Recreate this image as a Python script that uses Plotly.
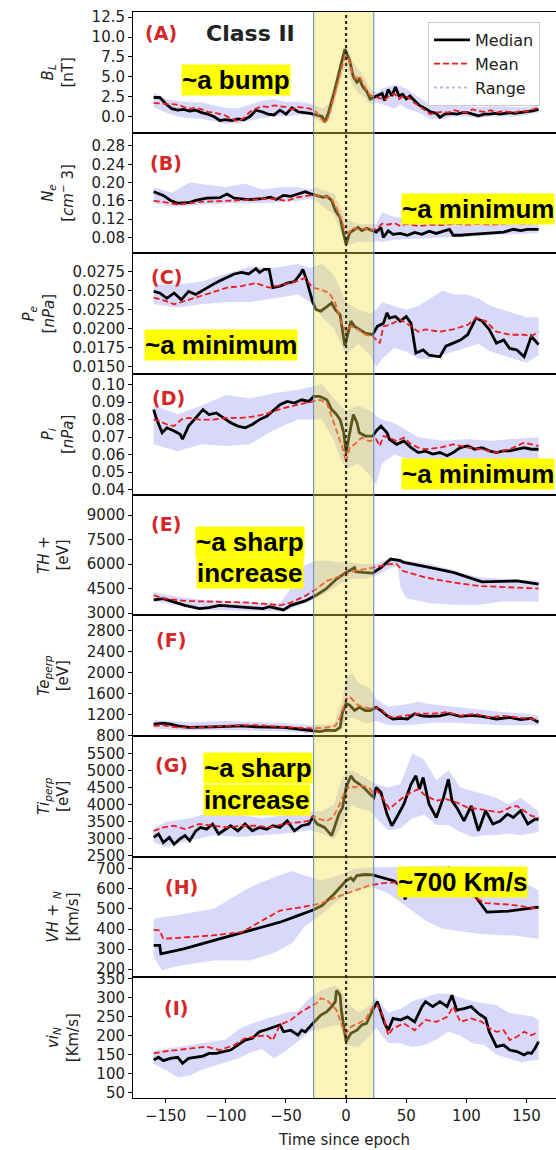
import plotly.graph_objects as go

# ---------------- data ----------------
# Panel A : B_L [nT]
A_med_t = [-160,-155,-150,-145,-140,-135,-130,-125,-120,-115,
           -110,-105,-100,-95,-90,-85,-80,-75,-70,-65,
           -60,-55,-50,-45,-40,-35,-30,-25,-20,-18,
           -15,-10,-5,-1,3,6,9,11,14,17,
           20,23,27,30,32,35,38,41,44,47,
           50,53,57,61,66,70,75,78,82,87,
           92,97,101,106,110,115,119,124,128,132,
           136,140,145,150,155,160]
A_med = [2.4,2.4,1.6,1.0,0.8,0.9,0.7,0.8,0.5,0.3,
         0.0,-0.5,-0.4,-0.5,-0.3,-0.4,0.0,0.8,0.6,0.3,
         0.2,0.8,0.3,1.1,0.6,0.5,0.4,0.2,0.0,-0.7,
         0.3,3.0,6.0,8.5,7.0,5.0,4.3,4.7,3.7,3.2,
         2.2,2.4,2.6,2.9,2.0,3.4,2.6,3.7,2.6,2.8,
         2.2,2.6,2.0,1.4,1.0,0.6,0.4,-0.1,0.3,0.4,
         0.3,0.5,0.5,0.3,0.1,0.3,0.3,0.4,0.3,0.4,
         0.5,0.4,0.5,0.6,0.7,0.9]
A_mean_t = [-160,-150,-145,-140,-135,-130,-125,-120,-115,-110,
            -105,-100,-95,-90,-85,-80,-75,-70,-65,-60,
            -55,-50,-45,-40,-35,-30,-25,-20,-17,-14,
            -10,-5,-1,2,5,8,11,14,17,20,
            24,28,32,36,40,44,48,52,56,60,
            65,70,75,80,85,90,95,100,105,110,
            115,120,125,130,135,140,145,150,155,160]
A_mean = [1.7,1.6,1.5,1.5,1.2,1.0,1.1,0.9,0.6,0.5,
          0.3,0.1,-0.3,-0.6,-0.2,0.6,1.0,1.3,1.2,1.4,
          1.3,1.2,0.9,1.2,1.1,1.0,0.6,-0.4,-0.8,0.2,
          2.5,5.3,7.6,7.3,5.5,4.8,5.1,4.2,3.3,2.7,
          2.5,2.3,2.1,2.6,2.9,2.2,2.6,2.4,1.8,1.4,
          0.8,0.3,0.5,0.6,0.5,0.8,0.6,0.5,0.9,0.7,
          0.6,0.8,0.5,0.7,0.6,0.5,0.7,0.6,0.9,1.1]
A_rng_t = [-160,-150,-140,-130,-120,-110,-100,-90,-80,-70,
           -60,-50,-40,-30,-20,-15,-10,-5,0,5,
           10,15,20,25,30,35,40,45,50,55,
           60,70,80,90,100,110,120,130,140,150,160]
A_lo = [1.2,0.5,0.0,-0.2,-0.3,-0.6,-0.9,-0.9,-0.5,-0.2,
        0.0,0.0,0.2,0.2,-0.8,-0.5,1.5,4.5,6.5,4.0,
        3.0,2.5,1.5,1.8,1.5,1.3,1.0,1.5,1.0,0.8,
        0.5,-0.3,-0.3,0.0,0.0,-0.2,0.0,0.0,0.0,0.2,0.5]
A_hi = [3.0,2.2,2.0,1.8,1.8,1.4,1.1,1.0,1.5,2.0,
        2.2,1.8,1.9,1.6,1.0,1.5,4.0,7.0,9.0,7.0,
        6.0,5.0,3.5,3.0,3.5,3.8,4.0,3.8,3.5,3.0,
        2.5,1.5,1.5,1.5,1.3,1.2,1.3,1.3,1.2,1.2,1.4]

# Panel B : N_e
B_med_t = [-160,-152,-146,-140,-131,-125,-116,-105,-99,-93,
           -81,-69,-63,-58,-52,-46,-40,-34,-30,-25,
           -19,-16,-12,-9,-5,-2,0,3,7,10,
           13,17,22,25,29,31,35,39,45,51,
           57,63,69,75,81,86,89,95,104,113,
           122,131,139,145,151,160]
B_med = [0.180,0.172,0.161,0.155,0.156,0.161,0.166,0.167,0.175,0.166,
         0.163,0.165,0.168,0.163,0.172,0.170,0.175,0.180,0.176,0.172,
         0.168,0.170,0.161,0.139,0.124,0.087,0.065,0.091,0.098,0.102,
         0.095,0.100,0.095,0.092,0.102,0.080,0.095,0.087,0.089,0.085,
         0.091,0.087,0.094,0.089,0.094,0.098,0.085,0.085,0.087,0.089,
         0.091,0.092,0.098,0.095,0.098,0.098]
B_mean_t = [-160,-150,-140,-130,-120,-100,-80,-60,-50,-40,
            -30,-20,-12,-8,-4,-1,2,6,10,15,
            20,25,30,35,40,45,50,60,70,80,
            90,100,110,120,130,140,150,160]
B_mean = [0.160,0.157,0.152,0.155,0.158,0.160,0.162,0.165,0.160,0.168,
          0.172,0.172,0.165,0.145,0.120,0.095,0.090,0.100,0.098,0.100,
          0.097,0.098,0.110,0.108,0.112,0.105,0.110,0.105,0.108,0.107,
          0.110,0.108,0.110,0.108,0.110,0.112,0.110,0.115]
B_rng_t = [-160,-145,-130,-115,-100,-85,-70,-55,-40,-30,
           -25,-10,0,10,20,25,30,40,60,80,
           100,120,140,160]
B_lo = [0.155,0.148,0.150,0.152,0.155,0.155,0.155,0.157,0.160,0.165,
        0.160,0.130,0.062,0.070,0.070,0.072,0.070,0.075,0.078,0.080,
        0.082,0.085,0.088,0.090]
B_hi = [0.190,0.178,0.200,0.195,0.190,0.198,0.185,0.190,0.190,0.185,
        0.190,0.175,0.120,0.110,0.110,0.108,0.135,0.125,0.120,0.118,
        0.118,0.118,0.118,0.120]

# Panel C : P_e
C_med_t = [-160,-155,-149,-143,-137,-131,-125,-116,-111,-105,
           -99,-93,-87,-81,-75,-72,-68,-64,-61,-55,
           -49,-43,-38,-36,-33,-28,-25,-21,-16,-12,
           -9,-5,-1,1,4,7,11,16,22,26,
           31,34,36,41,45,50,54,58,64,69,
           78,83,89,95,101,108,113,119,125,131,
           136,142,148,154,160]
C_med = [0.0249,0.0247,0.0240,0.0247,0.0238,0.0249,0.0245,0.0254,0.0258,0.0263,
         0.0267,0.0272,0.0274,0.0272,0.0279,0.0274,0.0278,0.0278,0.0254,0.0256,
         0.0260,0.0262,0.0272,0.0278,0.0265,0.0236,0.0225,0.0223,0.0229,0.0234,
         0.0225,0.0218,0.0177,0.0190,0.0210,0.0203,0.0199,0.0194,0.0192,0.0203,
         0.0207,0.0221,0.0214,0.0216,0.0210,0.0216,0.0207,0.0168,0.0172,0.0165,
         0.0163,0.0177,0.0181,0.0185,0.0192,0.0214,0.0210,0.0199,0.0181,0.0185,
         0.0174,0.0172,0.0163,0.0190,0.0179]
C_mean_t = [-160,-149,-143,-131,-122,-111,-99,-87,-75,-64,
            -52,-40,-34,-28,-22,-14,-9,-5,0,4,
            10,16,22,28,31,36,45,54,60,66,
            78,89,101,108,116,125,136,148,154,160]
C_mean = [0.0241,0.0236,0.0232,0.0238,0.0243,0.0249,0.0254,0.0256,0.0260,0.0254,
          0.0258,0.0263,0.0267,0.0254,0.0252,0.0247,0.0234,0.0212,0.0196,0.0203,
          0.0199,0.0192,0.0190,0.0181,0.0203,0.0205,0.0212,0.0203,0.0196,0.0199,
          0.0196,0.0199,0.0205,0.0214,0.0210,0.0196,0.0192,0.0192,0.0190,0.0196]
C_rng_t = [-160,-140,-120,-100,-80,-60,-40,-30,-20,-10,
           0,10,20,25,30,40,50,60,70,80,
           90,100,110,120,130,140,150,160]
C_lo = [0.0232,0.0228,0.0232,0.0235,0.0235,0.0240,0.0245,0.0235,0.0215,0.0200,
        0.0165,0.0180,0.0165,0.0150,0.0160,0.0175,0.0170,0.0160,0.0160,0.0165,
        0.0170,0.0175,0.0180,0.0170,0.0165,0.0160,0.0155,0.0165]
C_hi = [0.0258,0.0258,0.0262,0.0272,0.0282,0.0280,0.0285,0.0280,0.0285,0.0270,
        0.0235,0.0225,0.0220,0.0225,0.0235,0.0230,0.0225,0.0230,0.0240,0.0250,
        0.0245,0.0245,0.0240,0.0230,0.0225,0.0220,0.0215,0.0215]

# Panel D : P_i
D_med_t = [-160,-158,-153,-149,-143,-138,-136,-131,-125,-119,
           -114,-108,-102,-96,-90,-84,-78,-72,-66,-61,
           -55,-49,-43,-37,-31,-27,-22,-16,-12,-8,
           -5,-2,0,3,6,9,11,16,22,25,
           29,34,36,42,48,54,60,66,72,78,
           84,89,95,101,107,113,119,125,131,136,
           142,148,154,160]
D_med = [0.0857,0.0810,0.0725,0.0753,0.0735,0.0716,0.0688,0.0763,0.0810,0.0857,
         0.0829,0.0838,0.0810,0.0782,0.0763,0.0753,0.0772,0.0800,0.0819,0.0847,
         0.0885,0.0904,0.0894,0.0913,0.0904,0.0932,0.0932,0.0913,0.0857,0.0829,
         0.0800,0.0725,0.0612,0.0725,0.0829,0.0782,0.0725,0.0706,0.0706,0.0735,
         0.0763,0.0725,0.0688,0.0659,0.0678,0.0640,0.0612,0.0620,0.0603,0.0612,
         0.0594,0.0612,0.0640,0.0650,0.0631,0.0640,0.0622,0.0612,0.0622,0.0622,
         0.0631,0.0640,0.0631,0.0631]
D_mean_t = [-160,-155,-149,-143,-137,-131,-122,-111,-99,-87,
            -75,-64,-52,-40,-28,-22,-16,-11,-6,-3,
            0,3,7,13,19,25,28,31,36,42,
            48,54,60,66,78,89,101,113,125,136,
            148,160]
D_mean = [0.0800,0.0791,0.0772,0.0763,0.0800,0.0810,0.0800,0.0800,0.0810,0.0810,
          0.0819,0.0838,0.0866,0.0885,0.0904,0.0913,0.0894,0.0800,0.0706,0.0640,
          0.0556,0.0640,0.0659,0.0697,0.0678,0.0688,0.0650,0.0706,0.0697,0.0678,
          0.0697,0.0659,0.0640,0.0631,0.0640,0.0659,0.0640,0.0631,0.0612,0.0631,
          0.0669,0.0650]
D_rng_t = [-160,-140,-120,-100,-80,-60,-40,-20,-10,-5,
           0,10,20,25,30,40,60,80,100,120,
           140,160]
D_lo = [0.066,0.062,0.066,0.065,0.066,0.074,0.080,0.080,0.068,0.058,
        0.052,0.055,0.048,0.043,0.055,0.060,0.056,0.055,0.057,0.056,
        0.056,0.057]
D_hi = [0.088,0.083,0.088,0.094,0.092,0.095,0.097,0.100,0.092,0.088,
        0.085,0.088,0.085,0.082,0.080,0.078,0.070,0.068,0.069,0.068,
        0.069,0.070]

# Panel E : TH+ [eV]
E_med_t = [-160,-156,-152,-146,-134,-122,-114,-105,-93,-81,
           -69,-64,-58,-52,-46,-34,-25,-17,-8,0,
           7,8,14,22,29,37,45,48,66,89,
           113,142,160]
E_med = [3800,3840,3880,3740,3470,3270,3330,3470,3390,3330,
         3270,3390,3270,3190,3470,3740,4090,4460,5080,5490,
         5790,5530,5490,5450,5790,6310,6210,6100,5840,5490,
         4910,4970,4770]
E_mean_t = [-160,-152,-134,-110,-81,-55,-46,-34,-25,-16,
            -5,7,19,31,36,42,47,66,89,110,
            136,160]
E_mean = [4090,3900,3740,3680,3640,3470,3640,4050,4460,4970,
          5280,5590,5730,5900,6000,6000,5590,5180,4870,4660,
          4600,4500]
E_rng_t = [-160,-150,-120,-80,-55,-45,-35,-25,-15,-5,
           5,15,25,35,43,45,50,70,90,110,
           130,160]
E_lo = [3700,3600,3200,3150,3100,3300,3600,3900,4300,4800,
        5100,5100,5300,5700,5900,4600,3900,3600,3500,3500,
        3700,3700]
E_hi = [4300,4100,3800,3700,3600,4600,5900,6200,6200,6100,
        6100,6000,6000,6300,6400,6300,6200,6000,5600,5200,
        5100,5000]

# Panel F : Te_perp [eV]
F_med_t = [-160,-152,-146,-140,-131,-122,-111,-99,-87,-75,
           -64,-52,-40,-28,-22,-16,-9,-5,-3,0,
           3,7,11,16,20,25,29,34,39,45,
           51,57,63,69,78,86,95,104,113,125,
           136,145,154,160]
F_med = [1020,1040,1020,990,960,960,970,980,990,970,
         960,960,930,900,880,910,900,960,1250,1410,
         1380,1280,1340,1280,1280,1340,1280,1180,1120,1130,
         1120,1220,1180,1170,1180,1220,1170,1190,1170,1120,
         1150,1110,1130,1060]
F_mean_t = [-160,-152,-140,-122,-99,-75,-58,-40,-28,-16,
            -9,-5,0,3,6,10,16,22,28,34,
            39,48,60,72,84,95,107,119,131,142,
            154,160]
F_mean = [990,1000,960,960,990,1005,975,960,940,960,
          990,1150,1500,1540,1470,1380,1340,1310,1340,1180,
          1150,1180,1220,1220,1250,1180,1220,1150,1180,1150,
          1120,1090]
F_rng_t = [-160,-130,-100,-70,-50,-30,-10,-3,0,5,
           10,15,20,25,35,50,60,70,90,110,
           130,150,160]
F_lo = [940,900,910,900,880,850,860,950,1100,1150,
        1100,1050,1050,1080,1000,1000,1020,1050,1050,1030,
        1000,1000,1000]
F_hi = [1100,1060,1080,1060,1040,1000,1020,1500,1900,2000,
        1800,1750,1700,1500,1350,1400,1450,1400,1350,1300,
        1250,1220,1180]

# Panel G : Ti_perp [eV]
G_med_t = [-160,-156,-152,-147,-143,-138,-134,-130,-125,-121,
           -116,-111,-106,-102,-96,-90,-84,-78,-72,-66,
           -61,-55,-49,-43,-37,-31,-28,-24,-18,-12,
           -9,-6,-3,0,4,7,11,16,20,23,
           25,29,34,38,42,48,54,58,61,64,
           69,75,81,85,88,92,98,104,110,116,
           122,128,134,139,145,151,157,160]
G_med = [3040,3140,2890,3040,2840,3000,3090,2940,3230,3330,
         3280,3430,3140,3230,3380,3230,3430,3230,3330,3280,
         3380,3330,3520,3230,3380,3430,3620,3430,3330,3090,
         3380,3720,3910,4500,4840,4690,4600,4450,4300,4210,
         4500,4350,3720,3380,3620,4010,4600,4840,4450,4790,
         4010,3620,4210,4740,4110,3910,3520,3960,3230,3820,
         3430,3520,3720,3620,3820,3430,3570,3570]
G_mean_t = [-160,-152,-143,-134,-122,-111,-99,-87,-75,-64,
            -52,-40,-31,-27,-22,-16,-11,-6,-2,3,
            7,13,19,22,26,31,36,42,51,60,
            66,75,83,92,101,110,119,128,136,142,
            148,154,160]
G_mean = [3230,3330,3380,3280,3430,3380,3330,3380,3380,3330,
          3430,3480,3520,3670,3570,3520,3620,3960,4300,4550,
          4500,4550,4500,4350,4400,4160,3870,4060,4300,4450,
          4260,4110,4160,4060,3910,3870,3820,3770,3910,3960,
          3820,3670,3620]
G_rng_t = [-160,-150,-130,-110,-90,-70,-50,-30,-20,-10,
           -5,0,5,10,20,25,35,45,55,65,
           75,85,95,105,115,125,135,145,160]
G_lo = [2900,2750,2950,3100,3050,3100,3150,3250,3150,3000,
        3300,3700,4000,3900,3800,3600,3250,3300,3600,3700,
        3400,3400,3200,3050,3100,3100,3150,3100,3200]
G_hi = [3300,3500,3600,3800,3700,3600,3700,3800,3800,4000,
        4600,5000,5000,4900,4700,4600,4500,4600,5500,5300,
        4700,5000,4500,4400,4300,4200,4000,4200,3800]

# Panel H : VH+N [Km/s]
H_med_t = [-160,-155,-154,-135,-115,-95,-75,-55,-40,-27,
           -20,-10,0,4,6,9,16,22,40,47,
           49,51,65,80,85,95,103,117,135,160]
H_med = [318,318,276,301,335,368,401,434,467,496,
         517,575,642,655,642,667,672,670,640,605,
         548,580,640,690,705,660,600,484,489,509]
H_mean_t = [-160,-155,-152,-131,-111,-87,-69,-55,-37,-22,
            -8,7,19,31,42,66,101,116,136,160]
H_mean = [396,393,351,360,368,384,443,492,509,526,
          559,592,617,629,634,642,575,529,522,501]
H_rng_t = [-160,-153,-140,-110,-80,-60,-45,-35,-20,-7,
           7,22,36,51,66,80,110,125,140,155,160]
H_lo = [260,193,215,243,243,280,330,409,475,542,
        592,609,575,509,443,401,376,370,368,355,351]
H_hi = [450,460,470,501,609,658,690,667,642,667,
        700,708,708,712,716,716,700,675,658,609,592]

# Panel I : vi_N [Km/s]
I_med_t = [-160,-156,-152,-146,-140,-136,-131,-125,-119,-114,
           -108,-102,-96,-90,-84,-78,-72,-66,-61,-55,
           -52,-46,-40,-37,-34,-28,-25,-21,-16,-12,
           -9,-8,-5,-4,0,1,4,9,13,17,
           22,26,29,32,35,39,45,51,57,63,
           66,72,78,84,88,92,98,104,110,116,
           119,125,131,136,142,148,151,154,157,160]
I_med = [136,143,134,140,143,127,140,143,146,153,
         153,158,162,175,188,193,210,216,221,228,
         210,214,201,214,210,232,241,254,263,276,
         289,319,306,267,184,190,206,214,228,232,
         267,289,263,232,214,245,241,249,236,276,
         289,276,289,276,306,267,271,276,258,245,
         210,171,175,162,158,149,155,153,166,184]
I_mean_t = [-160,-152,-140,-128,-116,-105,-93,-84,-75,-66,
            -61,-55,-46,-37,-30,-25,-21,-16,-12,-8,
            -3,0,4,10,16,22,26,31,35,39,
            48,57,66,75,84,89,95,104,113,119,
            125,131,136,142,148,154,160]
I_mean = [153,158,162,166,171,162,175,193,197,201,
          188,228,241,263,276,284,298,293,280,267,
          223,206,223,232,241,276,280,249,201,219,
          232,214,241,236,249,276,236,245,236,219,
          210,214,188,197,210,201,210]
I_rng_t = [-160,-150,-140,-130,-120,-110,-100,-90,-80,-70,
           -60,-50,-40,-30,-20,-10,-5,0,10,20,
           25,35,45,55,65,75,85,95,105,115,
           125,135,145,155,160]
I_lo = [125,110,90,95,110,120,130,140,155,165,
        140,160,185,210,220,225,230,175,170,200,
        220,180,180,170,175,190,210,200,180,175,
        150,140,130,135,135]
I_hi = [160,165,170,175,180,185,190,215,230,240,
        250,260,265,300,320,330,325,290,260,280,
        300,260,270,290,300,310,310,300,290,285,
        280,260,255,250,240]

X_TICKS = [-150, -100, -50, 0, 50, 100, 150]
EPOCH_WINDOW = [-27, 23]

# ---------------- layout helpers ----------------
W, HGT = 556, 1150
ML, MR, MT, MB = 133, 0, 12, 52
PW = W - ML - MR
PH = HGT - MT - MB


def pxx(xp):
    return (xp - ML) / PW


def pxy(yp):
    return (HGT - MB - yp) / PH


panels = [
    dict(mt=A_med_t, m=A_med, at=A_mean_t, a=A_mean, rt=A_rng_t, lo=A_lo, hi=A_hi,
         yr=[-2.03, 13.16], tv=[0, 2.5, 5, 7.5, 10, 12.5], fmt='.1f',
         title='<i>B</i><sub><i>L</i></sub><br>[nT]'),
    dict(mt=B_med_t, m=B_med, at=B_mean_t, a=B_mean, rt=B_rng_t, lo=B_lo, hi=B_hi,
         yr=[0.0455, 0.309], tv=[0.08, 0.12, 0.16, 0.20, 0.24, 0.28], fmt='.2f',
         title='<i>N</i><sub><i>e</i></sub><br>[<i>cm</i><sup>\u2212</sup> 3]'),
    dict(mt=C_med_t, m=C_med, at=C_mean_t, a=C_mean, rt=C_rng_t, lo=C_lo, hi=C_hi,
         yr=[0.01403, 0.02992], tv=[0.015, 0.0175, 0.02, 0.0225, 0.025, 0.0275], fmt='.4f',
         title='<i>P</i><sub><i>e</i></sub><br>[<i>nPa</i>]'),
    dict(mt=D_med_t, m=D_med, at=D_mean_t, a=D_mean, rt=D_rng_t, lo=D_lo, hi=D_hi,
         yr=[0.0372, 0.106], tv=[0.04, 0.05, 0.06, 0.07, 0.08, 0.09, 0.10], fmt='.2f',
         title='<i>P</i><sub><i>i</i></sub><br>[<i>nPa</i>]'),
    dict(mt=E_med_t, m=E_med, at=E_mean_t, a=E_mean, rt=E_rng_t, lo=E_lo, hi=E_hi,
         yr=[2858, 10258], tv=[3000, 4500, 6000, 7500, 9000], fmt='d',
         title='<i>TH</i> +<br>[eV]'),
    dict(mt=F_med_t, m=F_med, at=F_mean_t, a=F_mean, rt=F_rng_t, lo=F_lo, hi=F_hi,
         yr=[797, 3086], tv=[800, 1200, 1600, 2000, 2400, 2800], fmt='d',
         title='<i>Te</i><sub><i>perp</i></sub><br>[eV]'),
    dict(mt=G_med_t, m=G_med, at=G_mean_t, a=G_mean, rt=G_rng_t, lo=G_lo, hi=G_hi,
         yr=[2475, 6005], tv=[2500, 3000, 3500, 4000, 4500, 5000, 5500], fmt='d',
         title='<i>Ti</i><sub><i>perp</i></sub><br>[eV]'),
    dict(mt=H_med_t, m=H_med, at=H_mean_t, a=H_mean, rt=H_rng_t, lo=H_lo, hi=H_hi,
         yr=[159, 761], tv=[200, 300, 400, 500, 600, 700], fmt='d',
         title='<i>VH</i> + <sub><i>N</i></sub><br>[Km/s]'),
    dict(mt=I_med_t, m=I_med, at=I_mean_t, a=I_mean, rt=I_rng_t, lo=I_lo, hi=I_hi,
         yr=[36, 353], tv=[50, 100, 150, 200, 250, 300, 350], fmt='d',
         title='<i>vi</i><sub><i>N</i></sub><br>[Km/s]'),
]

for p in panels:
    assert len(p['mt']) == len(p['m'])
    assert len(p['at']) == len(p['a'])
    assert len(p['rt']) == len(p['lo']) == len(p['hi'])

BAND = 'rgba(110,110,235,0.27)'
TXT = '#222222'
FONT = 'DejaVu Sans'
XR = [-177.2, 174.5]
N = len(panels)

fig = go.Figure()
layout = {}
for i, p in enumerate(panels):
    xa = 'x' if i == 0 else f'x{i+1}'
    ya = 'y' if i == 0 else f'y{i+1}'
    fig.add_trace(go.Scatter(x=p['rt'], y=p['hi'], mode='lines', line=dict(width=0),
                             hoverinfo='skip', showlegend=False, xaxis=xa, yaxis=ya))
    fig.add_trace(go.Scatter(x=p['rt'], y=p['lo'], mode='lines', line=dict(width=0),
                             fill='tonexty', fillcolor=BAND, hoverinfo='skip',
                             showlegend=False, xaxis=xa, yaxis=ya))
    fig.add_trace(go.Scatter(x=p['mt'], y=p['m'], mode='lines', name='Median',
                             line=dict(color='black', width=2.8),
                             showlegend=(i == 0), legendrank=1, xaxis=xa, yaxis=ya))
    fig.add_trace(go.Scatter(x=p['at'], y=p['a'], mode='lines', name='Mean',
                             line=dict(color='#ee1c1c', width=1.8, dash='6px,3px'),
                             showlegend=(i == 0), legendrank=2, xaxis=xa, yaxis=ya))
    d1 = 1 - i / N
    d0 = 1 - (i + 1) / N
    xkey = 'xaxis' if i == 0 else f'xaxis{i+1}'
    ykey = 'yaxis' if i == 0 else f'yaxis{i+1}'
    bottom = (i == N - 1)
    xd = dict(domain=[0, 1], anchor=ya, range=XR, showline=True, mirror=True,
              linecolor='black', linewidth=1, showgrid=False, zeroline=False,
              tickvals=X_TICKS, showticklabels=bottom,
              ticks='outside' if bottom else '', ticklen=4, tickcolor='black',
              tickfont=dict(family=FONT, size=15, color=TXT))
    if i > 0:
        xd['matches'] = 'x'
    if bottom:
        xd['title'] = dict(text='Time since epoch', font=dict(family=FONT, size=15, color=TXT),
                           standoff=10)
    layout[xkey] = xd
    layout[ykey] = dict(domain=[d0, d1], anchor=xa, range=p['yr'], showline=True, mirror=False,
                        linecolor='black', linewidth=1, showgrid=False, zeroline=False,
                        tickvals=p['tv'], tickformat=p['fmt'], ticks='outside', ticklen=4,
                        tickcolor='black', tickfont=dict(family=FONT, size=15, color=TXT),
                        title=dict(text=p['title'], font=dict(family=FONT, size=15, color=TXT),
                                   standoff=14))

# legend-only entry for the range band
fig.add_trace(go.Scatter(x=[None], y=[None], mode='lines', name='Range',
                         line=dict(color='#a9bedf', width=2, dash='dot'), legendrank=3))

shapes = [
    dict(type='rect', xref='x', yref='paper', x0=EPOCH_WINDOW[0], x1=EPOCH_WINDOW[1], y0=0, y1=1,
         fillcolor='rgba(242,226,70,0.38)', line=dict(width=0), layer='above'),
    dict(type='line', xref='x', yref='paper', x0=EPOCH_WINDOW[0], x1=EPOCH_WINDOW[0], y0=0, y1=1,
         line=dict(color='#5b86c0', width=1), layer='above'),
    dict(type='line', xref='x', yref='paper', x0=EPOCH_WINDOW[1], x1=EPOCH_WINDOW[1], y0=0, y1=1,
         line=dict(color='#5b86c0', width=1), layer='above'),
    dict(type='line', xref='x', yref='paper', x0=0, x1=0, y0=0, y1=1,
         line=dict(color='#222222', width=2, dash='dot'), layer='above'),
]

annotations = []
panel_labels = ['(A)', '(B)', '(C)', '(D)', '(E)', '(F)', '(G)', '(H)', '(I)']
label_pos = [(161, 33), (166, 163), (166, 277), (168, 398), (166, 524),
             (171, 640), (171, 765), (181, 887), (176, 1008)]
for lab, (lx, ly) in zip(panel_labels, label_pos):
    annotations.append(dict(text=f'<b>{lab}</b>', xref='paper', yref='paper',
                            x=pxx(lx), y=pxy(ly), xanchor='center', yanchor='middle',
                            showarrow=False, font=dict(family=FONT, size=19, color='#d62728')))
annotations.append(dict(text='<b>Class II</b>', xref='paper', yref='paper', x=pxx(250), y=pxy(33),
                        xanchor='center', yanchor='middle', showarrow=False,
                        font=dict(family=FONT, size=22, color=TXT)))

HL = dict(family='Liberation Sans', size=26, color='black')
highlights = [
    ('~a bump', 236, 80.5, 'center'),
    ('~a minimum', 401, 209, 'left'),
    ('~a minimum', 221, 344.5, 'center'),
    ('~a minimum', 401, 474, 'left'),
    ('~a sharp', 250, 542, 'center'),
    ('increase', 250, 573, 'center'),
    ('~a sharp', 258, 768, 'center'),
    ('increase', 257, 800, 'center'),
    ('~700 Km/s', 462, 882, 'center'),
]
for txt, hx, hy, anc in highlights:
    annotations.append(dict(text=f'<b>{txt}</b>', xref='paper', yref='paper', x=pxx(hx), y=pxy(hy),
                            xanchor=anc, yanchor='middle', showarrow=False, font=HL,
                            bgcolor='#ffff00', borderpad=0))

fig.update_layout(
    width=W, height=HGT,
    margin=dict(l=ML, r=MR, t=MT, b=MB, pad=0),
    paper_bgcolor='white', plot_bgcolor='white',
    font=dict(family=FONT, size=15, color=TXT),
    shapes=shapes, annotations=annotations,
    showlegend=True,
    legend=dict(x=pxx(428), y=pxy(22), xanchor='left', yanchor='top',
                bgcolor='rgba(255,255,255,0.85)', bordercolor='#cccccc', borderwidth=1,
                font=dict(family=FONT, size=16, color=TXT), itemwidth=36,
                tracegroupgap=0, traceorder='normal'),
    **layout,
)

fig.write_html('out.html')
